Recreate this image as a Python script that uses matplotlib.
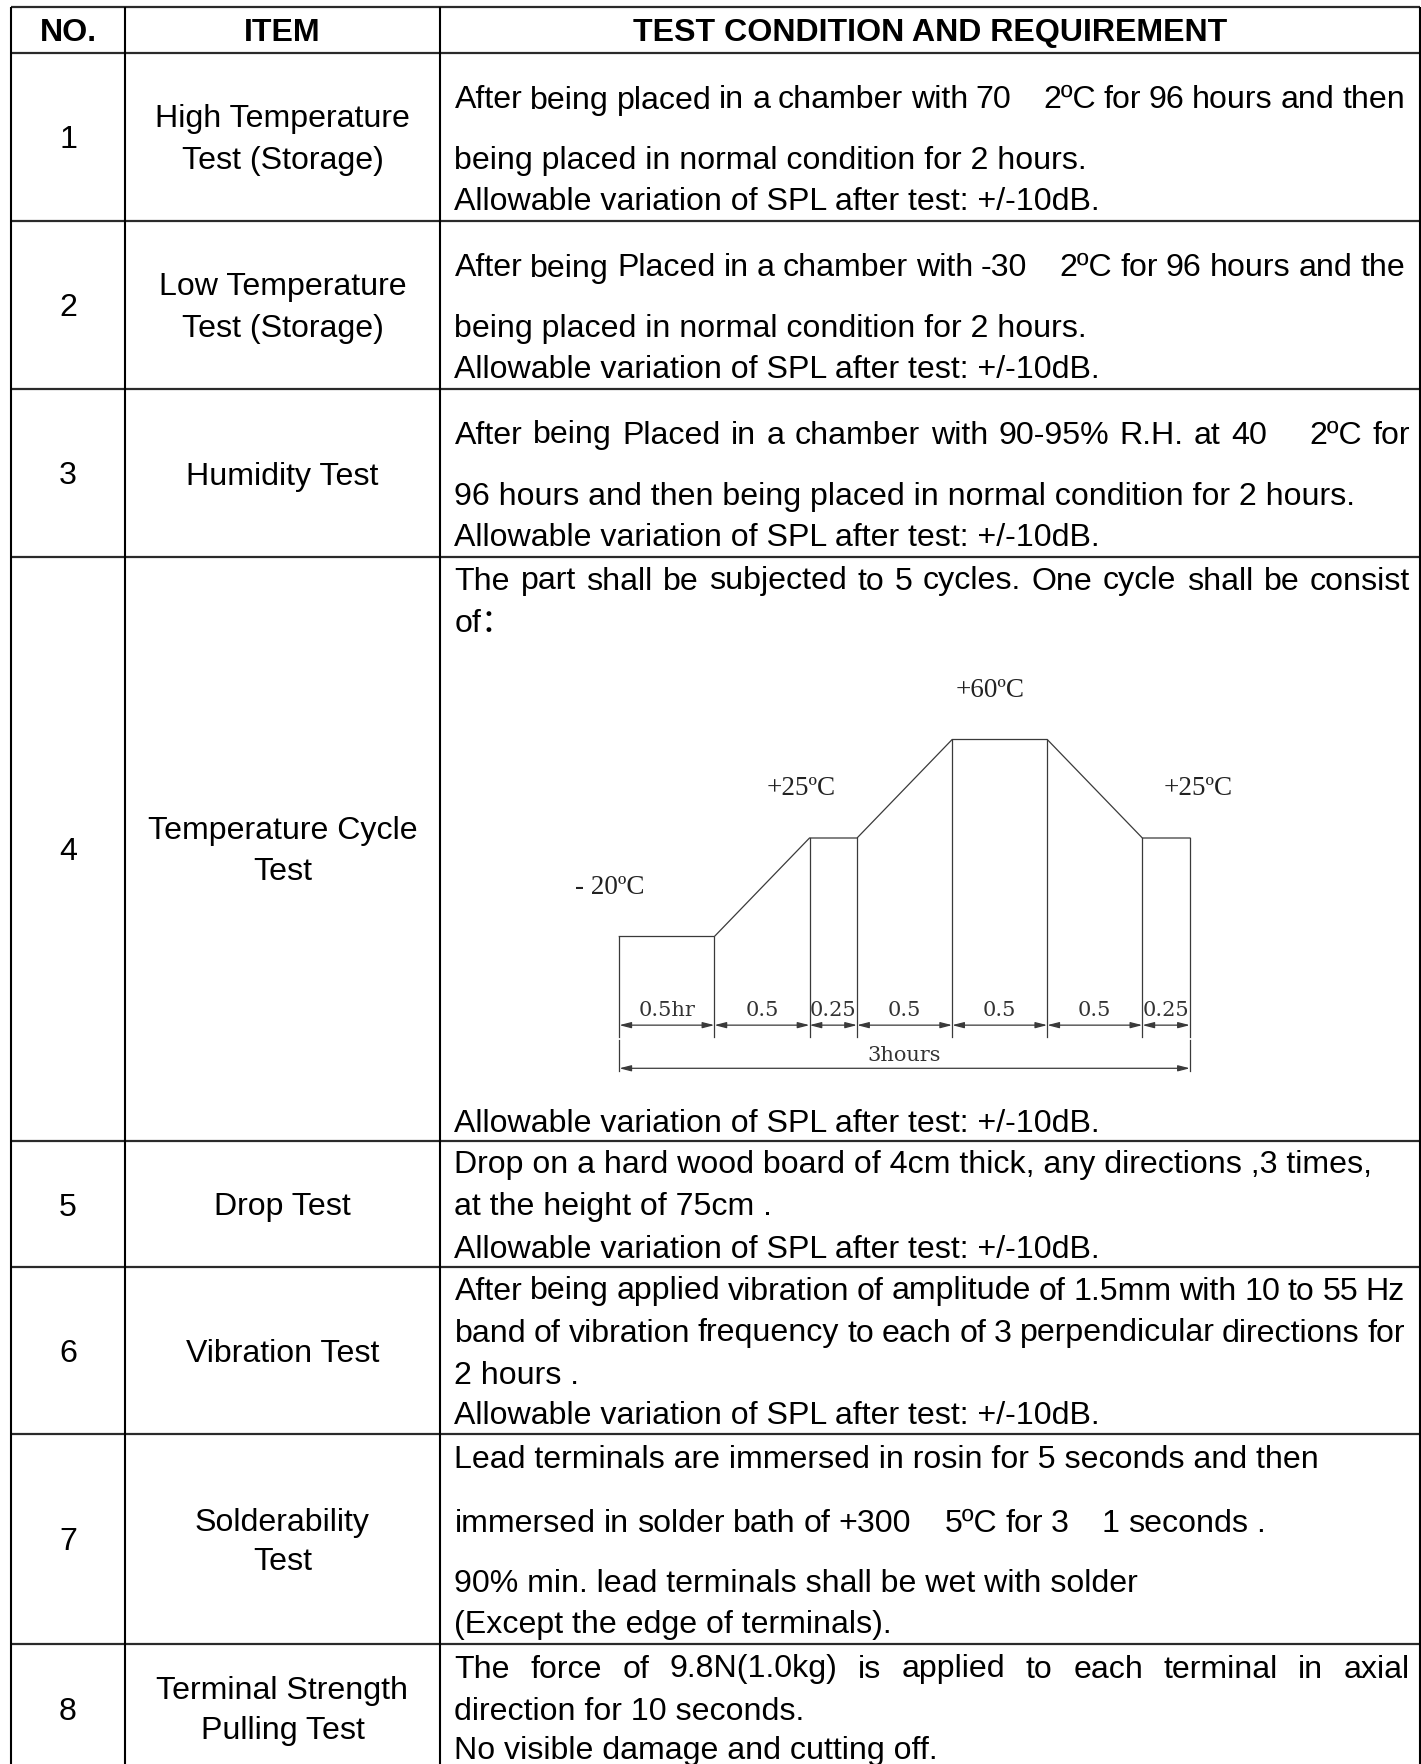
import matplotlib
matplotlib.use('Agg')
import matplotlib.pyplot as plt

# ---------------- data ----------------
headers = ['NO.', 'ITEM', 'TEST CONDITION AND REQUIREMENT']
nos = ['1', '2', '3', '4', '5', '6', '7', '8']
items = [
    ['High Temperature', 'Test (Storage)'],
    ['Low Temperature', 'Test (Storage)'],
    ['Humidity Test'],
    ['Temperature Cycle', 'Test'],
    ['Drop Test'],
    ['Vibration Test'],
    ['Solderability', 'Test'],
    ['Terminal Strength', 'Pulling Test'],
]
conditions = [
    ['After being placed in a chamber with 70    2ºC for 96 hours and then',
     'being placed in normal condition for 2 hours.',
     'Allowable variation of SPL after test: +/-10dB.'],
    ['After being Placed in a chamber with -30    2ºC for 96 hours and the',
     'being placed in normal condition for 2 hours.',
     'Allowable variation of SPL after test: +/-10dB.'],
    ['After being Placed in a chamber with 90-95% R.H. at 40    2ºC for',
     '96 hours and then being placed in normal condition for 2 hours.',
     'Allowable variation of SPL after test: +/-10dB.'],
    ['The part shall be subjected to 5 cycles. One cycle shall be consist',
     'of：',
     'Allowable variation of SPL after test: +/-10dB.'],
    ['Drop on a hard wood board of 4cm thick, any directions ,3 times,',
     'at the height of 75cm .',
     'Allowable variation of SPL after test: +/-10dB.'],
    ['After being applied vibration of amplitude of 1.5mm with 10 to 55 Hz',
     'band of vibration frequency to each of 3 perpendicular directions for',
     '2 hours .',
     'Allowable variation of SPL after test: +/-10dB.'],
    ['Lead terminals are immersed in rosin for 5 seconds and then',
     'immersed in solder bath of +300    5ºC for 3    1 seconds .',
     '90% min. lead terminals shall be wet with solder',
     '(Except the edge of terminals).'],
    ['The force of 9.8N(1.0kg) is applied to each terminal in axial',
     'direction for 10 seconds.',
     'No visible damage and cutting off.'],
]
# lines set flush to a right edge: (row, line) -> right edge in pixels
justified_lines = {(0, 0): 1405, (1, 0): 1405, (2, 0): 1410, (3, 0): 1410,
                   (5, 0): 1405, (5, 1): 1405, (6, 1): 1265, (7, 0): 1410}

# temperature cycle diagram data
seg_hours = [0.5, 0.5, 0.25, 0.5, 0.5, 0.5, 0.25]
seg_labels = ['0.5hr', '0.5', '0.25', '0.5', '0.5', '0.5', '0.25']
profile_temps = [-20, -20, 25, 25, 60, 60, 25, 25]
temp_labels = ['- 20ºC', '+25ºC', '+60ºC', '+25ºC']
total_label = '3hours'

# ---------------- layout ----------------
W, H = 1421, 1764
col_x = [11, 125, 440, 1420]
row_y = [7, 53, 220.5, 389, 557, 1141, 1267, 1434, 1644, 1800]
DY = 2.5
header_y = 30.5 + DY
no_y = [138, 306, 474, 850, 1205, 1351, 1540, 1709]
item_y = [[117, 158], [285, 326], [474], [828, 870], [1205], [1351], [1520, 1560], [1689, 1729]]
cond_y = [[98, 159, 200], [266, 326, 368], [433, 495, 536], [579, 621, 1121],
          [1162, 1205, 1247], [1289, 1331, 1373, 1414], [1457, 1521, 1582, 1623],
          [1667, 1709, 1749]]
text_x0 = 454.5
FS = 23.1
SANS = ['Liberation Sans', 'Noto Sans CJK SC', 'DejaVu Sans']
LINE = '#2a2a2a'

fig = plt.figure(figsize=(W / 100, H / 100), dpi=100)
ax = fig.add_axes([0, 0, 1, 1])
ax.set_xlim(0, W)
ax.set_ylim(H, 0)
ax.axis('off')

ax.hlines(row_y[:-1], col_x[0], col_x[-1], colors=LINE, lw=1.6)
ax.vlines(col_x, row_y[0], row_y[-1], colors='black', lw=1.5)

for cx0, cx1, h in zip(col_x[:-1], col_x[1:], headers):
    ax.text((cx0 + cx1) / 2, header_y, h, ha='center', va='center',
            fontsize=FS, fontweight='bold', family=SANS)

renderer = fig.canvas.get_renderer()


def justify(y, line, x1):
    words = line.split(' ')
    objs = [ax.text(0, y, w, ha='left', va='center', fontsize=FS, family=SANS) for w in words]
    widths = [o.get_window_extent(renderer).width if w else 0.0 for o, w in zip(objs, words)]
    gap = (x1 - text_x0 - sum(widths)) / (len(words) - 1)
    x = text_x0
    for o, w in zip(objs, widths):
        o.set_x(x)
        x += w + gap


for r in range(len(nos)):
    ax.text((col_x[0] + col_x[1]) / 2, no_y[r] + DY, nos[r], ha='center', va='center',
            fontsize=FS, family=SANS)
    for t, y in zip(items[r], item_y[r]):
        ax.text((col_x[1] + col_x[2]) / 2, y + DY, t, ha='center', va='center',
                fontsize=FS, family=SANS)
    for li, (t, y) in enumerate(zip(conditions[r], cond_y[r])):
        if (r, li) in justified_lines:
            justify(y + DY, t, justified_lines[(r, li)])
        else:
            ax.text(text_x0, y + DY, t, ha='left', va='center', fontsize=FS, family=SANS)

# ---------------- temperature cycle diagram ----------------
px_per_hour = 190.2
unit = 98.5
x0_px, base_px = 619.3, 1035
box = (560, 1260, 660, 1090)  # left, right, top, bottom in pixels
dax = fig.add_axes([box[0] / W, 1 - box[3] / H, (box[1] - box[0]) / W, (box[3] - box[2]) / H])
dax.set_xlim((box[0] - x0_px) / px_per_hour, (box[1] - x0_px) / px_per_hour)
dax.set_ylim((base_px - box[3]) / unit, (base_px - box[2]) / unit)
dax.axis('off')

levels_sorted = sorted(set(profile_temps))
levels = [levels_sorted.index(t) + 1 for t in profile_temps]
bps = [0.0]
for h in seg_hours:
    bps.append(bps[-1] + h)

DC = '#3a3a3a'
dax.plot(bps, levels, color=DC, lw=0.9, solid_joinstyle='miter')
for xb, lv in zip(bps, levels):
    dax.plot([xb, xb], [-0.02, lv], color=DC, lw=0.9)

arrow_y = 0.10
ap = dict(arrowstyle='<|-|>,head_length=0.7,head_width=0.18', color=DC, lw=0.9,
          shrinkA=0, shrinkB=0)
for a, b, lab in zip(bps[:-1], bps[1:], seg_labels):
    dax.annotate('', xy=(a, arrow_y), xytext=(b, arrow_y), arrowprops=ap)
    dax.text((a + b) / 2, arrow_y + 0.05, lab, ha='center', va='bottom',
             fontsize=15, family='DejaVu Serif', color='#333333')

for xb in (bps[0], bps[-1]):
    dax.plot([xb, xb], [-0.05, -0.37], color=DC, lw=0.9)
dax.annotate('', xy=(bps[0], -0.338), xytext=(bps[-1], -0.338), arrowprops=ap)
dax.text((bps[0] + bps[-1]) / 2, -0.30, total_label, ha='center', va='bottom',
         fontsize=15, family='DejaVu Serif', color='#333333')

# temperature labels placed relative to the hold segments
hold_idx = [0, 2, 4, 6]
label_dx = [-0.30, -0.17, -0.05, 0.17]
for lab, si, dx in zip(temp_labels, hold_idx, label_dx):
    xm = (bps[si] + bps[si + 1]) / 2
    dax.text(xm + dx, levels[si] + 0.50, lab, ha='center', va='center',
             fontsize=19.5, family='Liberation Serif', color='#222222')

fig.savefig('out.png', dpi=100)
